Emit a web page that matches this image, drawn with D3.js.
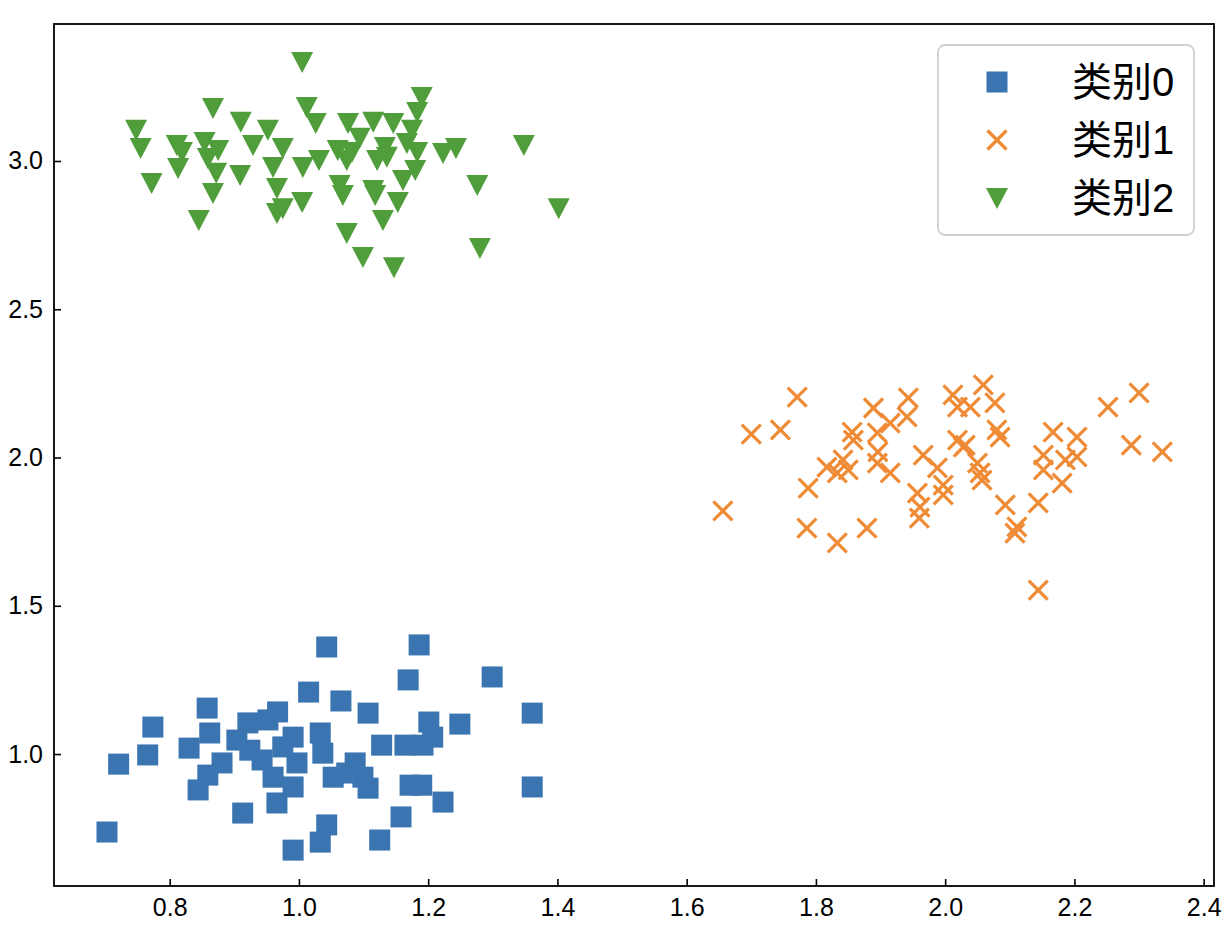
<!DOCTYPE html>
<html>
<head>
<meta charset="utf-8">
<script src="https://cdn.jsdelivr.net/npm/d3@7"></script>
<style>
  html, body { margin: 0; padding: 0; background: #fff; }
  svg { display: block; }
  text { font-family: "Liberation Sans", Arial, "Noto Sans CJK SC", sans-serif; }
</style>
</head>
<body>
<svg id="chart" width="1232" height="946"></svg>
<script>
// category names
const categories = ["类别0", "类别1", "类别2"];

// 类别0 (squares) [x, y]
const class0 = [
  [0.703, 0.737], [0.721, 0.966], [0.766, 0.997], [0.774, 1.091], [0.830, 1.020],
  [0.858, 1.155], [0.862, 1.071], [0.881, 0.970], [0.859, 0.929], [0.844, 0.879],
  [0.913, 0.801], [0.966, 0.835], [0.991, 0.676], [1.033, 0.703], [1.043, 0.761],
  [1.043, 1.361], [1.015, 1.209], [1.065, 1.179], [0.921, 1.105], [0.967, 1.142],
  [0.952, 1.115], [0.904, 1.047], [0.924, 1.013], [0.943, 0.980], [0.960, 0.922],
  [0.991, 1.057], [0.997, 0.970], [0.991, 0.889], [1.033, 1.071], [1.037, 1.003],
  [1.053, 0.922], [0.975, 1.024], [1.186, 1.368], [1.169, 1.250], [1.299, 1.260],
  [1.107, 1.138], [1.201, 1.108], [1.249, 1.101], [1.361, 1.138], [1.128, 1.030],
  [1.164, 1.030], [1.192, 1.030], [1.207, 1.057], [1.087, 0.970], [1.099, 0.922],
  [1.107, 0.885], [1.172, 0.895], [1.190, 0.895], [1.223, 0.838], [1.158, 0.788],
  [1.361, 0.889], [1.125, 0.710], [1.074, 0.936]
];

// 类别1 (crosses)
const class1 = [
  [1.771, 2.204], [1.700, 2.079], [1.745, 2.093], [1.656, 1.820], [1.889, 2.167],
  [1.943, 2.201], [1.941, 2.137], [1.915, 2.116], [1.856, 2.086], [1.858, 2.059],
  [1.895, 2.083], [1.896, 2.019], [1.895, 1.981], [1.915, 1.948], [1.817, 1.968],
  [1.833, 1.948], [1.842, 1.992], [1.850, 1.958], [1.788, 1.897], [1.966, 2.008],
  [1.988, 1.965], [1.997, 1.907], [1.997, 1.874], [1.957, 1.880], [1.961, 1.833],
  [1.960, 1.796], [1.786, 1.762], [1.833, 1.712], [1.879, 1.762], [2.012, 2.211],
  [2.019, 2.170], [2.019, 2.059], [2.028, 2.035], [2.059, 2.245], [2.039, 2.170],
  [2.077, 2.184], [2.080, 2.093], [2.085, 2.069], [2.031, 2.042], [2.050, 1.981],
  [2.054, 1.948], [2.057, 1.924], [2.093, 1.840], [2.111, 1.766], [2.108, 1.745],
  [2.144, 1.847], [2.167, 2.086], [2.204, 2.069], [2.152, 2.008], [2.186, 1.992],
  [2.204, 2.002], [2.152, 1.958], [2.181, 1.914], [2.252, 2.170], [2.300, 2.218],
  [2.288, 2.042], [2.336, 2.019], [2.144, 1.553]
];

// 类别2 (down triangles)
const class2 = [
  [1.005, 3.334], [0.867, 3.179], [1.012, 3.182], [1.026, 3.128], [0.910, 3.132],
  [0.952, 3.105], [0.748, 3.105], [0.755, 3.044], [0.811, 3.054], [0.819, 3.030],
  [0.854, 3.064], [0.875, 3.037], [0.929, 3.054], [0.975, 3.044], [1.076, 3.128],
  [1.115, 3.132], [0.813, 2.976], [0.859, 3.010], [0.872, 2.960], [0.909, 2.953],
  [0.960, 2.980], [1.006, 2.980], [1.031, 3.003], [1.060, 3.037], [1.082, 3.030],
  [1.074, 3.003], [1.121, 3.003], [0.772, 2.926], [0.867, 2.892], [0.966, 2.909],
  [1.063, 2.919], [1.068, 2.885], [1.115, 2.902], [1.005, 2.862], [0.966, 2.825],
  [0.975, 2.841], [0.845, 2.801], [1.074, 2.757], [1.099, 2.676], [1.130, 2.801],
  [1.146, 3.128], [1.190, 3.216], [1.183, 3.165], [1.175, 3.105], [1.094, 3.078],
  [1.133, 3.047], [1.167, 3.061], [1.183, 3.030], [1.136, 3.014], [1.223, 3.027],
  [1.243, 3.044], [1.348, 3.054], [1.118, 2.885], [1.161, 2.936], [1.180, 2.970],
  [1.153, 2.862], [1.276, 2.919], [1.402, 2.841], [1.147, 2.642], [1.280, 2.707]
];

const xTicks = [0.8, 1.0, 1.2, 1.4, 1.6, 1.8, 2.0, 2.2, 2.4];
const yTicks = [1.0, 1.5, 2.0, 2.5, 3.0];

const colors = ["#3a74b1", "#ef8a35", "#4f9d3b"];

const margin = { top: 24, right: 18, bottom: 60, left: 54 };
const width = 1232, height = 946;

const svg = d3.select("#chart");

const x = d3.scaleLinear()
  .domain([0.621, 2.416])
  .range([margin.left, width - margin.right]);
const y = d3.scaleLinear()
  .domain([0.555, 3.462])
  .range([height - margin.bottom, margin.top]);

// marker drawing
function drawMarker(g, kind, color) {
  if (kind === 0) {
    g.append("rect")
      .attr("x", -10.5).attr("y", -10.5)
      .attr("width", 21).attr("height", 21)
      .attr("fill", color);
  } else if (kind === 1) {
    const s = 9.5;
    g.append("path")
      .attr("d", `M${-s},${-s}L${s},${s}M${-s},${s}L${s},${-s}`)
      .attr("stroke", color)
      .attr("stroke-width", 3.2)
      .attr("fill", "none");
  } else {
    g.append("path")
      .attr("d", "M-11,-10L11,-10L0,11Z")
      .attr("fill", color);
  }
}

const series = [class0, class1, class2];

series.forEach((data, i) => {
  const pts = svg.append("g")
    .selectAll("g")
    .data(data)
    .enter()
    .append("g")
    .attr("transform", (d) => `translate(${x(d[0])}, ${y(d[1])})`);
  pts.each(function () {
    drawMarker(d3.select(this), i, colors[i]);
  });
});

// axes (ticks point inward)
const xAxis = svg.append("g")
  .attr("transform", `translate(0, ${height - margin.bottom})`)
  .call(d3.axisBottom(x).tickValues(xTicks).tickFormat(d3.format(".1f"))
    .tickSizeInner(-7).tickSizeOuter(0).tickPadding(12));
const yAxis = svg.append("g")
  .attr("transform", `translate(${margin.left}, 0)`)
  .call(d3.axisLeft(y).tickValues(yTicks).tickFormat(d3.format(".1f"))
    .tickSizeInner(-7).tickSizeOuter(0).tickPadding(11));

[xAxis, yAxis].forEach((ax) => {
  ax.select(".domain").remove();
  ax.selectAll("line").attr("stroke", "#000").attr("stroke-width", 1.6);
  ax.selectAll("text")
    .attr("fill", "#000")
    .style("font-size", "25px")
    .style("font-family", "'Liberation Sans', Arial, sans-serif");
});

// frame
svg.append("rect")
  .attr("x", margin.left)
  .attr("y", margin.top)
  .attr("width", width - margin.left - margin.right)
  .attr("height", height - margin.top - margin.bottom)
  .attr("fill", "none")
  .attr("stroke", "#000")
  .attr("stroke-width", 1.8);

// legend
const legend = svg.append("g").attr("transform", "translate(938, 45)");
legend.append("rect")
  .attr("width", 256)
  .attr("height", 190)
  .attr("rx", 7)
  .attr("fill", "#fff")
  .attr("fill-opacity", 0.85)
  .attr("stroke", "#d0d0d0")
  .attr("stroke-width", 1.8);

categories.forEach((name, i) => {
  const row = legend.append("g").attr("transform", `translate(0, ${37 + i * 58})`);
  const m = row.append("g").attr("transform", "translate(59, 0)");
  drawMarker(m, i, colors[i]);
  row.append("text")
    .attr("x", 134)
    .attr("y", 0)
    .attr("dy", "0.35em")
    .attr("fill", "#000")
    .style("font-size", "40px")
    .style("font-family", "'Liberation Sans', Arial, 'Noto Sans CJK SC', sans-serif")
    .text(name);
});
</script>
</body>
</html>
